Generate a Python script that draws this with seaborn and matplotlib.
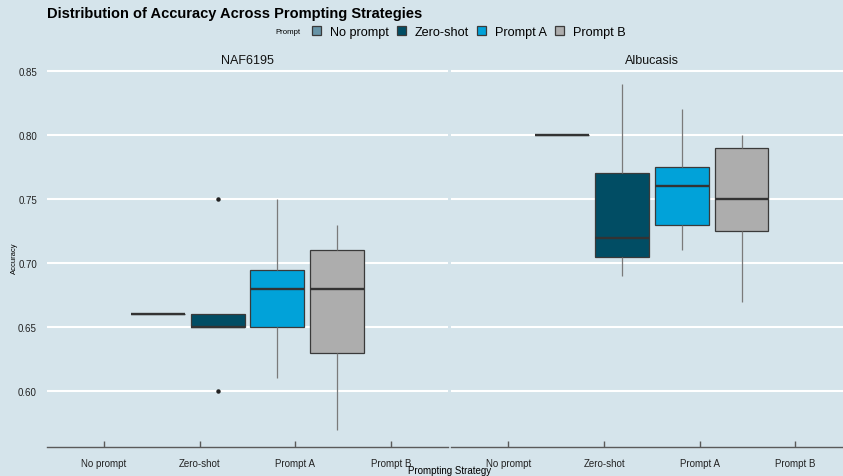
import numpy as np
import pandas as pd
import matplotlib
matplotlib.use("Agg")
import matplotlib.pyplot as plt
import seaborn as sns

# facets and prompt strategies
models = ["NAF6195", "Albucasis"]
prompts = ["No prompt", "Zero-shot", "Prompt A", "Prompt B"]

# accuracy values (5 runs per group)
naf_no_prompt = [0.66, 0.66, 0.66, 0.66, 0.66]
naf_zero_shot = [0.60, 0.65, 0.65, 0.66, 0.75]
naf_prompt_a = [0.61, 0.65, 0.68, 0.695, 0.75]
naf_prompt_b = [0.57, 0.63, 0.68, 0.71, 0.73]

alb_no_prompt = [0.80, 0.80, 0.80, 0.80, 0.80]
alb_zero_shot = [0.69, 0.705, 0.72, 0.77, 0.84]
alb_prompt_a = [0.71, 0.73, 0.76, 0.775, 0.82]
alb_prompt_b = [0.67, 0.725, 0.75, 0.79, 0.80]

yticks = [0.60, 0.65, 0.70, 0.75, 0.80, 0.85]

colors = {"No prompt": "#6794a7", "Zero-shot": "#014d64",
          "Prompt A": "#01a2d9", "Prompt B": "#adadad"}
bg = "#d5e4eb"

groups = {
    "NAF6195": [naf_no_prompt, naf_zero_shot, naf_prompt_a, naf_prompt_b],
    "Albucasis": [alb_no_prompt, alb_zero_shot, alb_prompt_a, alb_prompt_b],
}
rows = []
for m in models:
    for p, vals in zip(prompts, groups[m]):
        for v in vals:
            rows.append({"Model": m, "Prompt": p, "Accuracy": v})
df = pd.DataFrame(rows)
# every box is dodged around the middle of the x axis (as in the original)
df["pos"] = (1 + len(prompts)) / 2

plt.rcParams["font.family"] = ["Liberation Sans", "DejaVu Sans"]

fig = plt.figure(figsize=(8.43, 4.77), dpi=100, facecolor=bg)
W, H = 843, 477
bottom = 1 - 448 / H
height = (448 - 67.5) / H
ax1 = fig.add_axes([46.6 / W, bottom, 401.8 / W, height])
ax2 = fig.add_axes([451 / W, bottom, 401.8 / W, height], sharey=ax1)

lo, hi = df["Accuracy"].min(), df["Accuracy"].max()
pad = 0.05 * (hi - lo)

handles, labels = None, None
for ax, m in zip([ax1, ax2], models):
    sub = df[df["Model"] == m]
    sns.boxplot(data=sub, x="pos", y="Accuracy", hue="Prompt", hue_order=prompts,
                palette=colors, native_scale=True, orient="x", width=2.5, gap=0.1,
                saturation=1, linewidth=0.9, linecolor="#3a3a3a", fliersize=2.2,
                whiskerprops={"color": "#7a7a7a", "linewidth": 0.9},
                capprops={"linewidth": 0},
                medianprops={"color": "#333333", "linewidth": 1.7},
                flierprops={"marker": "o", "markerfacecolor": "#222222",
                            "markeredgecolor": "#222222"},
                ax=ax)
    if handles is None:
        handles, labels = ax.get_legend_handles_labels()
    if ax.get_legend() is not None:
        ax.get_legend().remove()

    ax.set_facecolor(bg)
    ax.set_xlim(0.4, len(prompts) + 0.6)
    ax.set_ylim(lo - pad, hi + pad)
    ax.set_xticks(np.arange(1, len(prompts) + 1))
    ax.set_xticklabels(prompts)
    ax.set_yticks(yticks)
    ax.set_yticklabels([f"{t:.2f}" for t in yticks])
    ax.set_xlabel("")
    ax.set_ylabel("")
    ax.grid(axis="y", color="white", linewidth=1.5)
    ax.grid(axis="x", visible=False)
    ax.set_axisbelow(True)
    for s in ["top", "right", "left"]:
        ax.spines[s].set_visible(False)
    ax.spines["bottom"].set_color("#5a5a5a")
    ax.spines["bottom"].set_linewidth(1.0)
    ax.tick_params(axis="x", direction="in", length=4, width=1, color="#5a5a5a",
                   labelsize=7, pad=8, labelcolor="#222222")
    ax.tick_params(axis="y", length=0, labelsize=7, pad=7, labelcolor="#222222")
    ax.set_title(m, fontsize=9, pad=2, color="#111111")

ax2.tick_params(axis="y", labelleft=False)

fig.text(47 / W, 1 - 14 / H, "Distribution of Accuracy Across Prompting Strategies",
         fontsize=10.5, fontweight="bold", va="center", ha="left")
fig.text(275 / W, 1 - 33 / H, "Prompt", fontsize=5.6, va="center", ha="left")
fig.legend(handles, labels, ncol=4, loc="center left",
           bbox_to_anchor=(312 / W, 1 - 33 / H), frameon=False, fontsize=9.1,
           borderpad=0, borderaxespad=0, handlelength=0.75, handleheight=0.75,
           handletextpad=0.7, columnspacing=0.6)
fig.text(14 / W, 1 - 258 / H, "Accuracy", rotation=90, fontsize=5.5,
         va="center", ha="center")
fig.text(450 / W, 1 - 471 / H, "Prompting Strategy", fontsize=7,
         va="center", ha="center")

fig.savefig("out.png", dpi=100, facecolor=bg)
